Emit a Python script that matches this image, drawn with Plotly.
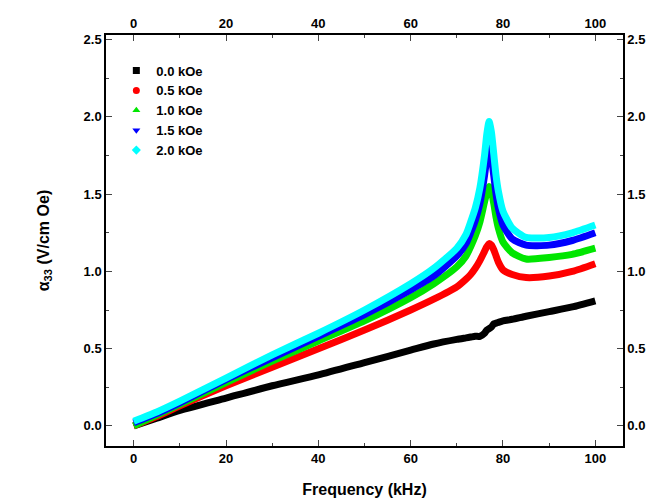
import plotly.graph_objects as go

freq = [0, 5, 10, 20, 30, 40, 50, 60, 65, 70, 72, 73, 74, 75, 76, 76.5, 77, 77.5, 78, 78.5, 79, 80, 82, 85, 90, 95, 100]
a_00 = [0, 0.05, 0.1, 0.18, 0.26, 0.33, 0.41, 0.49, 0.53, 0.56, 0.57, 0.575, 0.58, 0.58, 0.6, 0.62, 0.63, 0.64, 0.66, 0.665, 0.67, 0.68, 0.69, 0.71, 0.74, 0.77, 0.81]
a_05 = [0, 0.06, 0.13, 0.26, 0.38, 0.5, 0.62, 0.75, 0.82, 0.9, 0.95, 0.98, 1.02, 1.07, 1.13, 1.16, 1.18, 1.17, 1.14, 1.1, 1.06, 1.01, 0.98, 0.96, 0.97, 1.0, 1.05]
a_10 = [0, 0.07, 0.14, 0.28, 0.42, 0.55, 0.68, 0.83, 0.92, 1.03, 1.1, 1.16, 1.23, 1.32, 1.45, 1.51, 1.55, 1.52, 1.44, 1.35, 1.28, 1.19, 1.12, 1.08, 1.09, 1.11, 1.15]
a_15 = [0.02, 0.08, 0.15, 0.3, 0.44, 0.58, 0.72, 0.88, 0.97, 1.1, 1.18, 1.25, 1.33, 1.44, 1.62, 1.73, 1.8, 1.74, 1.62, 1.5, 1.41, 1.3, 1.21, 1.17, 1.17, 1.2, 1.25]
a_20 = [0.03, 0.09, 0.16, 0.31, 0.46, 0.6, 0.75, 0.92, 1.02, 1.15, 1.24, 1.32, 1.41, 1.54, 1.75, 1.89, 1.97, 1.9, 1.76, 1.62, 1.52, 1.39, 1.28, 1.22, 1.22, 1.25, 1.3]

names = ["0.0 kOe", "0.5 kOe", "1.0 kOe", "1.5 kOe", "2.0 kOe"]
colors = ["black", "red", "#00e600", "#0000ff", "#00ffff"]
symbols = ["square", "circle", "triangle-up", "triangle-down", "diamond"]
series = [a_00, a_05, a_10, a_15, a_20]

fig = go.Figure()
for ys, nm, c, s in zip(series, names, colors, symbols):
    # thick line stands in for the dense markers
    fig.add_trace(go.Scatter(x=freq, y=ys, mode="lines", line=dict(color=c, width=7, shape="spline", smoothing=0.6),
                             showlegend=False))
    fig.add_trace(go.Scatter(x=[None], y=[None], mode="markers", name="<b>" + nm + "</b>",
                             marker=dict(color=c, symbol=s, size=7)))

ticks_x = [0, 20, 40, 60, 80, 100]
ticks_y = [0, 0.5, 1, 1.5, 2, 2.5]
ax = dict(showline=True, linecolor="black", linewidth=1.5, ticks="inside", ticklen=6,
          showgrid=False, zeroline=False, automargin=False,
          tickfont=dict(size=13, family="Liberation Sans", color="black"))
fig.update_layout(
    width=655, height=498, plot_bgcolor="white", paper_bgcolor="white",
    margin=dict(l=98, r=40, t=27, b=60),
    font=dict(family="Liberation Sans", color="black"),
    xaxis=dict(ax, range=[-6, 106], tickvals=ticks_x, ticktext=["<b>%d</b>" % v for v in ticks_x],
               minor=dict(ticks="inside", ticklen=3, dtick=10),
               title=dict(text="<b>Frequency (kHz)</b>", font=dict(size=16), standoff=18)),
    xaxis2=dict(ax, range=[-6, 106], overlaying="x", side="top", tickvals=ticks_x,
                ticktext=["<b>%d</b>" % v for v in ticks_x], minor=dict(ticks="inside", ticklen=3, dtick=10)),
    yaxis=dict(ax, range=[-0.13, 2.53], tickvals=ticks_y,
               ticktext=["<b>%.1f</b>" % v for v in ticks_y], minor=dict(ticks="inside", ticklen=3, dtick=0.25),
               title=dict(text="<b>α<sub>33</sub> (V/cm Oe)</b>", font=dict(size=16), standoff=30)),
    yaxis2=dict(ax, range=[-0.13, 2.53], overlaying="y", side="right", tickvals=ticks_y,
                ticktext=["<b>%.1f</b>" % v for v in ticks_y], minor=dict(ticks="inside", ticklen=3, dtick=0.25)),
    legend=dict(x=0.02, y=0.95, bgcolor="rgba(0,0,0,0)", font=dict(size=13), itemwidth=30, tracegroupgap=3),
)
fig.add_trace(go.Scatter(x=[None], y=[None], xaxis="x2", yaxis="y2", showlegend=False))
fig.write_html("out.html")
